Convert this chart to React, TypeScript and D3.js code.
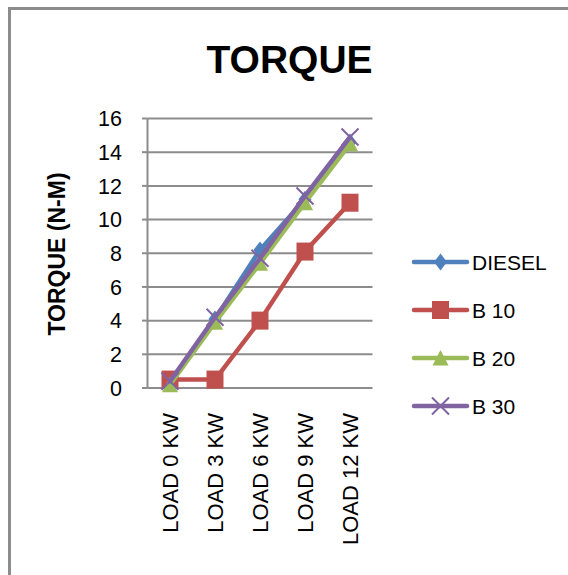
import React from "react";
import * as d3 from "d3";

const categories = ["LOAD 0 KW", "LOAD 3 KW", "LOAD 6 KW", "LOAD 9 KW", "LOAD 12 KW"];
const seriesNames = ["DIESEL", "B 10", "B 20", "B 30"];
const diesel = [0.3, 4.1, 8.2, 11.2, 14.6];
const b10 = [0.5, 0.5, 4.0, 8.1, 11.0];
const b20 = [0.2, 3.9, 7.4, 11.0, 14.5];
const b30 = [0.4, 4.2, 7.7, 11.4, 14.9];
const yTicks = [0, 2, 4, 6, 8, 10, 12, 14, 16];
const title = "TORQUE";
const yTitle = "TORQUE (N-M)";

const colors = ["#4F81BD", "#C0504D", "#9BBB59", "#8064A2"];
const markers = ["diamond", "square", "triangle", "x"];
const FONT = "'Liberation Sans', Arial, sans-serif";

function Marker({ type, x, y, color }: { type: string; x: number; y: number; color: string }) {
  if (type === "diamond") {
    return <path d={`M${x},${y - 8.5}L${x + 6.5},${y}L${x},${y + 8.5}L${x - 6.5},${y}Z`} fill={color} />;
  }
  if (type === "square") {
    return <rect x={x - 8.5} y={y - 9} width={17} height={18} fill={color} />;
  }
  if (type === "triangle") {
    return <path d={`M${x},${y - 8}L${x + 8},${y + 7.5}L${x - 8},${y + 7.5}Z`} fill={color} />;
  }
  return (
    <path
      d={`M${x - 8.5},${y - 8.5}L${x + 8.5},${y + 8.5}M${x + 8.5},${y - 8.5}L${x - 8.5},${y + 8.5}`}
      stroke={color}
      strokeWidth={2}
      fill="none"
    />
  );
}

export default function App() {
  const W = 568;
  const H = 575;
  const x = d3.scaleBand<string>().domain(categories).range([147.5, 372.5]);
  const y = d3.scaleLinear().domain([0, 16]).range([388, 118.5]);
  const cx = (c: string) => (x(c) as number) + x.bandwidth() / 2;
  const data = [diesel, b10, b20, b30];
  const line = d3
    .line<number>()
    .x((_, i) => cx(categories[i]))
    .y((v) => y(v));
  const legendY = [262, 310, 358, 406];

  return (
    <svg
      width={W}
      height={H}
      style={{ position: "absolute", left: 0, top: 0, background: "#fff" }}
      fontFamily={FONT}
    >
      <rect x={0} y={0} width={W} height={H} fill="#fff" />
      <rect x={9.5} y={8.5} width={800} height={800} fill="none" stroke="#8c8c8c" strokeWidth={3} />
      <text x={289.5} y={73} textAnchor="middle" fontSize={39} fontWeight="bold" fill="#000">
        {title}
      </text>
      {yTicks.map((t) => (
        <g key={t}>
          <line x1={147.5} x2={372.5} y1={y(t)} y2={y(t)} stroke="#8c8c8c" strokeWidth={2} />
          <line x1={142} x2={147.5} y1={y(t)} y2={y(t)} stroke="#8c8c8c" strokeWidth={2} />
          <text x={122} y={y(t)} dy="0.36em" textAnchor="end" fontSize={21.5} fill="#000">
            {t}
          </text>
        </g>
      ))}
      <line x1={147.5} x2={147.5} y1={118.5} y2={388} stroke="#8c8c8c" strokeWidth={2} />
      <text
        transform={`translate(65,254) rotate(-90)`}
        textAnchor="middle"
        fontSize={23}
        fontWeight="bold"
        fill="#000"
      >
        {yTitle}
      </text>
      {categories.map((c) => (
        <text
          key={c}
          transform={`translate(${cx(c) + 8},413) rotate(-90)`}
          textAnchor="end"
          fontSize={22}
          fill="#000"
        >
          {c}
        </text>
      ))}
      {data.map((s, k) => (
        <g key={k}>
          <path
            d={line(s) as string}
            fill="none"
            stroke={colors[k]}
            strokeWidth={4.5}
            strokeLinejoin="round"
            strokeLinecap="round"
          />
          {s.map((v, i) => (
            <Marker key={i} type={markers[k]} x={cx(categories[i])} y={y(v)} color={colors[k]} />
          ))}
        </g>
      ))}
      {seriesNames.map((n, k) => (
        <g key={n}>
          <line
            x1={414}
            x2={467}
            y1={legendY[k]}
            y2={legendY[k]}
            stroke={colors[k]}
            strokeWidth={4.5}
            strokeLinecap="round"
          />
          <Marker type={markers[k]} x={440.5} y={legendY[k]} color={colors[k]} />
          <text x={472} y={legendY[k]} dy="0.36em" fontSize={21} fill="#000">
            {n}
          </text>
        </g>
      ))}
    </svg>
  );
}
